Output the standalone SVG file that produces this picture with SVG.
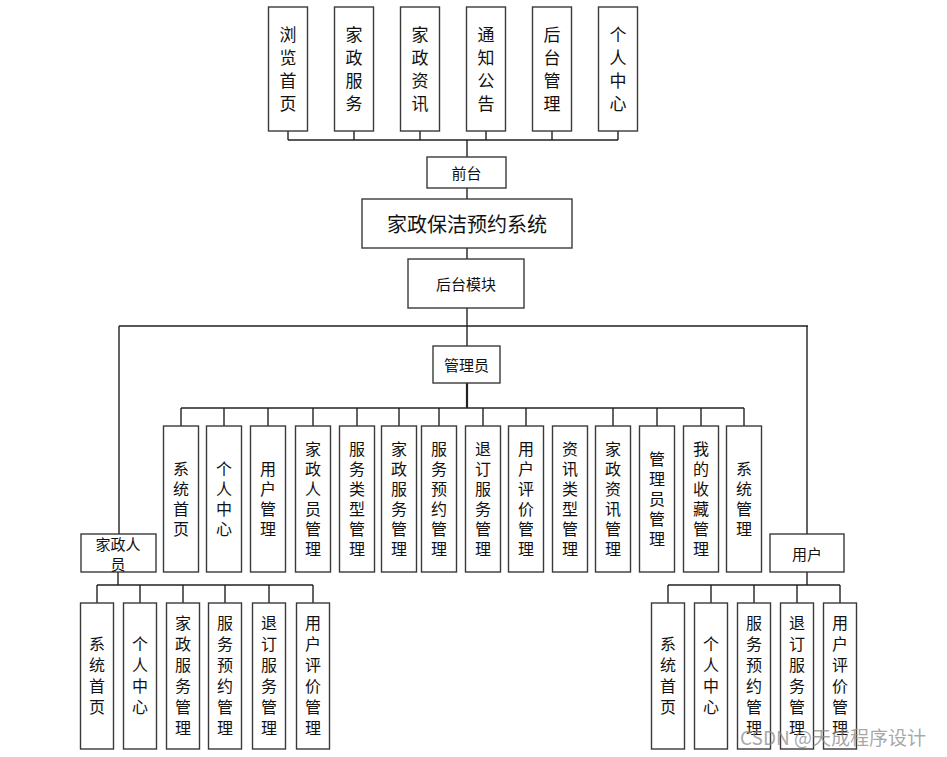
<svg xmlns="http://www.w3.org/2000/svg" width="947" height="757" viewBox="0 0 947 757">
<style>
.b{fill:#fff;stroke:#3a3a3a;stroke-width:1.4}
.t{font-family:"Noto Sans CJK SC","Liberation Sans",sans-serif;fill:#111;text-anchor:middle;dominant-baseline:central}
.v{writing-mode:vertical-rl;text-orientation:upright}
.top{font-size:17px;letter-spacing:6px}
.mid{font-size:16px;letter-spacing:4px}
.bot{font-size:16px;letter-spacing:5px}
.f15{font-size:15px}.f20{font-size:20px}
.c{fill:none;stroke:#222;stroke-width:1.4}
.wm{font-family:"Noto Sans CJK SC","Liberation Sans",sans-serif;font-size:19px;fill:#8a8a8a;fill-opacity:0.75}
</style>
<rect width="947" height="757" fill="#fff"/>
<g id="connectors">
<path class="c" d="M288,131V140M354,131V140M420,131V140M486,131V140M552,131V140M618,131V140M288,140H618M467,140V157"/>
<path class="c" d="M467,188V199M467,248V259M467,308V346M119,326H808M119,326V534M807,326V534"/>
<path class="c" d="M467,383V408" style="stroke-width:2.2"/>
<path class="c" d="M181,408H744"/>
<path class="c" d="M181,408V426M224,408V426M268,408V426M313,408V426M357,408V426M399,408V426M439,408V426M483,408V426M526,408V426M613,408V426M657,408V426M701,408V426M744,408V426"/>
<path class="c" d="M118,572V585M97,585H313M97,585V603M140,585V603M183,585V603M225,585V603M269,585V603M313,585V603"/>
<path class="c" d="M807,572V585M668,585H840M668,585V603M711,585V603M754,585V603M797,585V603M840,585V603"/>
</g>
<g id="top1"><rect class="b" x="268.5" y="7" width="39" height="124"/><text class="t v top" x="288" y="72">浏览首页</text></g>
<g id="top2"><rect class="b" x="334.5" y="7" width="39" height="124"/><text class="t v top" x="354" y="72">家政服务</text></g>
<g id="top3"><rect class="b" x="400.5" y="7" width="39" height="124"/><text class="t v top" x="420" y="72">家政资讯</text></g>
<g id="top4"><rect class="b" x="466.5" y="7" width="39" height="124"/><text class="t v top" x="486" y="72">通知公告</text></g>
<g id="top5"><rect class="b" x="532.5" y="7" width="39" height="124"/><text class="t v top" x="552" y="72">后台管理</text></g>
<g id="top6"><rect class="b" x="598.5" y="7" width="39" height="124"/><text class="t v top" x="618" y="72">个人中心</text></g>
<g id="qiantai"><rect class="b" x="427" y="157" width="79" height="31"/><text class="t f15" x="466.5" y="172.5">前台</text></g>
<g id="system"><rect class="b" x="362" y="199" width="210" height="49"/><text class="t f20" x="467" y="223.5">家政保洁预约系统</text></g>
<g id="houtai"><rect class="b" x="408" y="259" width="116" height="49"/><text class="t f15" x="466" y="283.5">后台模块</text></g>
<g id="admin"><rect class="b" x="433" y="346" width="67" height="37"/><text class="t f15" x="466.5" y="364.5">管理员</text></g>
<g id="a1"><rect class="b" x="163.5" y="426" width="35" height="146"/><text class="t v mid" x="181" y="501">系统首页</text></g>
<g id="a2"><rect class="b" x="206.5" y="426" width="35" height="146"/><text class="t v mid" x="224" y="501">个人中心</text></g>
<g id="a3"><rect class="b" x="250.5" y="426" width="35" height="146"/><text class="t v mid" x="268" y="501">用户管理</text></g>
<g id="a4"><rect class="b" x="295.5" y="426" width="35" height="146"/><text class="t v mid" x="313" y="501">家政人员管理</text></g>
<g id="a5"><rect class="b" x="339.5" y="426" width="35" height="146"/><text class="t v mid" x="357" y="501">服务类型管理</text></g>
<g id="a6"><rect class="b" x="381.5" y="426" width="35" height="146"/><text class="t v mid" x="399" y="501">家政服务管理</text></g>
<g id="a7"><rect class="b" x="421.5" y="426" width="35" height="146"/><text class="t v mid" x="439" y="501">服务预约管理</text></g>
<g id="a8"><rect class="b" x="465.5" y="426" width="35" height="146"/><text class="t v mid" x="483" y="501">退订服务管理</text></g>
<g id="a9"><rect class="b" x="508.5" y="426" width="35" height="146"/><text class="t v mid" x="526" y="501">用户评价管理</text></g>
<g id="a10"><rect class="b" x="552.5" y="426" width="35" height="146"/><text class="t v mid" x="570" y="501">资讯类型管理</text></g>
<g id="a11"><rect class="b" x="595.5" y="426" width="35" height="146"/><text class="t v mid" x="613" y="501">家政资讯管理</text></g>
<g id="a12"><rect class="b" x="639.5" y="426" width="35" height="146"/><text class="t v mid" x="657" y="501">管理员管理</text></g>
<g id="a13"><rect class="b" x="683.5" y="426" width="35" height="146"/><text class="t v mid" x="701" y="501">我的收藏管理</text></g>
<g id="a14"><rect class="b" x="726.5" y="426" width="35" height="146"/><text class="t v mid" x="744" y="501">系统管理</text></g>
<g id="staff"><rect class="b" x="81" y="534" width="75" height="38"/><text class="t f15" x="118" y="543.5">家政人</text><text class="t f15" x="118" y="563">员</text></g>
<g id="user"><rect class="b" x="770" y="534" width="74" height="38"/><text class="t f15" x="807" y="553">用户</text></g>
<g id="s1"><rect class="b" x="80.5" y="603" width="33" height="146"/><text class="t v bot" x="97" y="678">系统首页</text></g>
<g id="s2"><rect class="b" x="123.5" y="603" width="33" height="146"/><text class="t v bot" x="140" y="678">个人中心</text></g>
<g id="s3"><rect class="b" x="166.5" y="603" width="33" height="146"/><text class="t v bot" x="183" y="678">家政服务管理</text></g>
<g id="s4"><rect class="b" x="208.5" y="603" width="33" height="146"/><text class="t v bot" x="225" y="678">服务预约管理</text></g>
<g id="s5"><rect class="b" x="252.5" y="603" width="33" height="146"/><text class="t v bot" x="269" y="678">退订服务管理</text></g>
<g id="s6"><rect class="b" x="296.5" y="603" width="33" height="146"/><text class="t v bot" x="313" y="678">用户评价管理</text></g>
<g id="u1"><rect class="b" x="651.5" y="603" width="33" height="146"/><text class="t v bot" x="668" y="678">系统首页</text></g>
<g id="u2"><rect class="b" x="694.5" y="603" width="33" height="146"/><text class="t v bot" x="711" y="678">个人中心</text></g>
<g id="u3"><rect class="b" x="737.5" y="603" width="33" height="146"/><text class="t v bot" x="754" y="678">服务预约管理</text></g>
<g id="u4"><rect class="b" x="780.5" y="603" width="33" height="146"/><text class="t v bot" x="797" y="678">退订服务管理</text></g>
<g id="u5"><rect class="b" x="823.5" y="603" width="33" height="146"/><text class="t v bot" x="840" y="678">用户评价管理</text></g>
<text class="wm" x="740" y="745">CSDN @天成程序设计</text>
</svg>
